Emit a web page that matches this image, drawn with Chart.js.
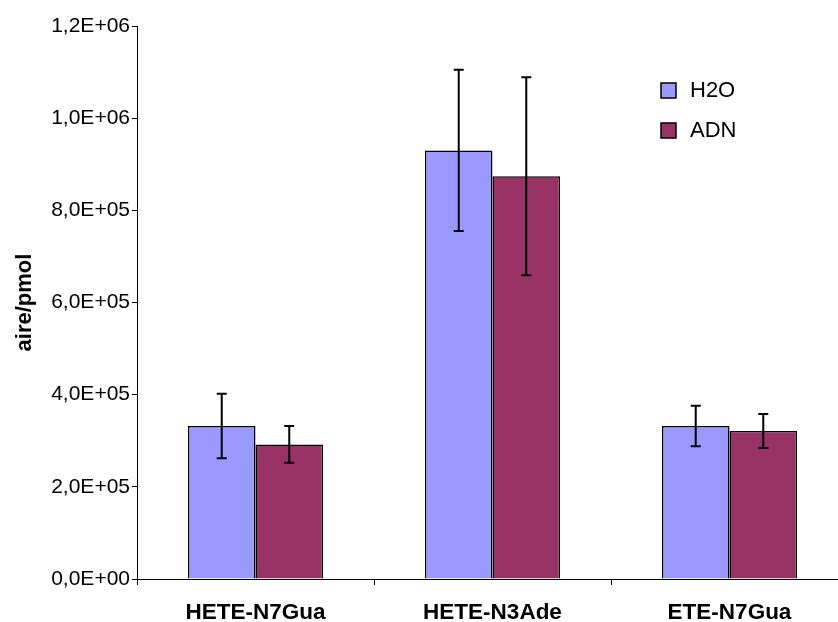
<!DOCTYPE html>
<html>
<head>
<meta charset="utf-8">
<script src="https://cdn.jsdelivr.net/npm/chart.js@4"></script>
<style>
  html, body { margin: 0; padding: 0; background: #fff; overflow: hidden; }
  #wrap { width: 838px; height: 622px; overflow: hidden; }
</style>
</head>
<body>
<div id="wrap"><canvas id="chart" width="848" height="622"></canvas></div>
<script>
// data
const categories = ["HETE-N7Gua", "HETE-N3Ade", "ETE-N7Gua"];
const seriesNames = ["H2O", "ADN"];
const h2oValues = [332000, 930000, 332000];
const h2oErrors = [70000, 175000, 44000];
const adnValues = [292000, 874000, 321000];
const adnErrors = [40000, 215000, 37000];
const yTicks = [0, 200000, 400000, 600000, 800000, 1000000, 1200000];

const FONT = "'Liberation Sans', Arial, sans-serif";

// 1,2E+06 style labels
function sciLabel(v) {
  if (v === 0) return "0,0E+00";
  const exp = Math.floor(Math.log10(v));
  const mant = (v / Math.pow(10, exp)).toFixed(1).replace(".", ",");
  return mant + "E+" + String(exp).padStart(2, "0");
}

const errorBars = {
  id: "errorBars",
  afterDatasetsDraw(chart) {
    const ctx = chart.ctx;
    const y = chart.scales.y;
    ctx.save();
    ctx.strokeStyle = "#000";
    ctx.lineWidth = 2;
    chart.data.datasets.forEach((ds, i) => {
      const meta = chart.getDatasetMeta(i);
      meta.data.forEach((bar, j) => {
        const v = ds.data[j], e = ds.errors[j];
        const top = y.getPixelForValue(v + e);
        const bot = y.getPixelForValue(v - e);
        ctx.beginPath();
        ctx.moveTo(bar.x, top); ctx.lineTo(bar.x, bot);
        ctx.moveTo(bar.x - 5, top); ctx.lineTo(bar.x + 5, top);
        ctx.moveTo(bar.x - 5, bot); ctx.lineTo(bar.x + 5, bot);
        ctx.stroke();
      });
    });
    ctx.restore();
  }
};

const insideLegend = {
  id: "insideLegend",
  afterDraw(chart) {
    const ctx = chart.ctx;
    ctx.save();
    ctx.font = "22px " + FONT;
    ctx.textBaseline = "middle";
    chart.data.datasets.forEach((ds, i) => {
      const cy = 90 + i * 40;
      ctx.fillStyle = ds.backgroundColor;
      ctx.fillRect(661, cy - 7, 15, 15);
      ctx.strokeStyle = "#000";
      ctx.lineWidth = 1.5;
      ctx.strokeRect(661, cy - 7, 15, 15);
      ctx.fillStyle = "#000";
      ctx.fillText(ds.label, 690, cy + 1);
    });
    ctx.restore();
  }
};

new Chart(document.getElementById("chart"), {
  type: "bar",
  data: {
    labels: categories,
    datasets: [
      {
        label: seriesNames[0],
        data: h2oValues,
        errors: h2oErrors,
        backgroundColor: "#9999FF",
        borderColor: "#000",
        borderWidth: 1.5,
      },
      {
        label: seriesNames[1],
        data: adnValues,
        errors: adnErrors,
        backgroundColor: "#993366",
        borderColor: "#000",
        borderWidth: 1.5,
      },
    ],
  },
  options: {
    responsive: false,
    animation: false,
    layout: { padding: { top: 26, left: 0, right: 0, bottom: 0 } },
    categoryPercentage: 0.57,
    barPercentage: 1.0,
    plugins: {
      legend: { display: false },
      tooltip: { enabled: false },
    },
    scales: {
      x: {
        afterFit: (s) => { s.height = 43; },
        grid: { drawOnChartArea: false, drawTicks: true, tickLength: 6, color: "#000", offset: true },
        border: { color: "#000", width: 1 },
        ticks: { color: "#000", padding: 14, font: { family: FONT, size: 22.5, weight: "bold" } },
      },
      y: {
        min: 0,
        max: 1200000,
        afterFit: (s) => { s.width = 137; },
        afterBuildTicks: (s) => { s.ticks = yTicks.map((v) => ({ value: v })); },
        grid: { drawOnChartArea: false, drawTicks: true, tickLength: 5, color: "#000" },
        border: { color: "#000", width: 1 },
        ticks: {
          color: "#000",
          padding: 2,
          font: { family: FONT, size: 21 },
          callback: (v) => sciLabel(v),
        },
        title: {
          display: true,
          text: "aire/pmol",
          color: "#000",
          padding: { top: 12, bottom: 0 },
          font: { family: FONT, size: 22, weight: "bold" },
        },
      },
    },
  },
  plugins: [errorBars, insideLegend],
});
</script>
</body>
</html>
